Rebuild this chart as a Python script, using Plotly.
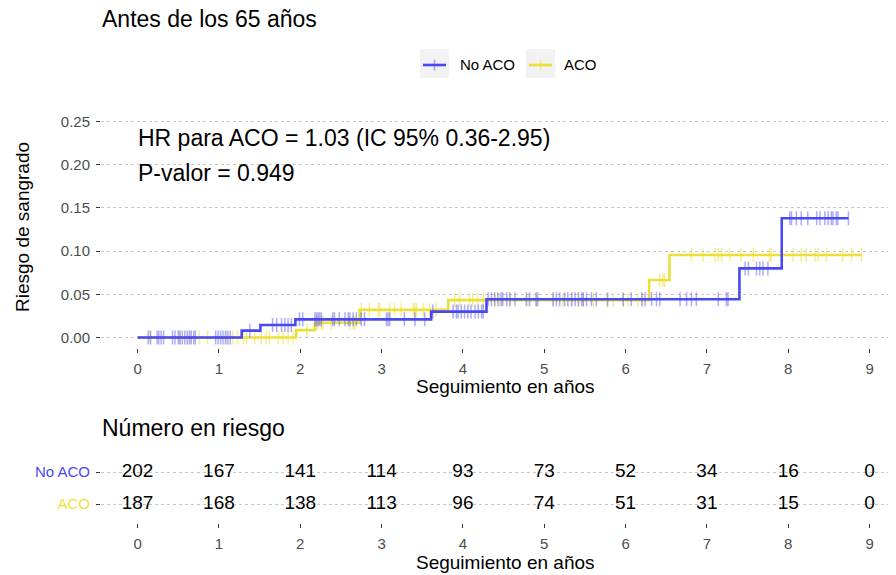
import plotly.graph_objects as go

# ---------------- data ----------------
no_aco_times = [0, 1.28, 1.51, 1.94, 3.61, 4.29, 7.40, 7.92, 8.74]
no_aco_risk = [0, 0.0079, 0.0145, 0.021, 0.030, 0.0443, 0.080, 0.138, 0.138]

aco_times = [0, 1.95, 2.18, 2.73, 3.82, 6.29, 6.54, 8.90]
aco_risk = [0, 0.0085, 0.017, 0.032, 0.0433, 0.0666, 0.0955, 0.0955]

no_aco_censor = [0.13, 0.16, 0.24, 0.26, 0.29, 0.32, 0.43, 0.46, 0.50, 0.52, 0.55, 0.58, 0.61, 0.64,
                 0.66, 0.69, 0.71, 0.96, 0.99, 1.02, 1.05, 1.08, 1.11, 1.14, 1.38, 1.66, 1.71, 1.77,
                 1.81, 1.85, 1.89, 1.99, 2.03, 2.18, 2.20, 2.22, 2.24, 2.26, 2.40, 2.42, 2.48, 2.55,
                 2.59, 2.61, 2.65, 2.69, 2.75, 2.79, 3.06, 3.08, 3.10, 3.28, 3.41, 3.53, 3.63, 3.88,
                 3.92, 3.94, 3.98, 4.02, 4.06, 4.10, 4.15, 4.19, 4.23, 4.25, 4.31, 4.35, 4.39, 4.43,
                 4.47, 4.49, 4.54, 4.58, 4.64, 4.78, 4.82, 4.90, 4.92, 5.11, 5.15, 5.19, 5.25, 5.29,
                 5.34, 5.38, 5.42, 5.46, 5.48, 5.52, 5.58, 5.64, 5.78, 5.97, 6.07, 6.20, 6.24, 6.32,
                 6.38, 6.42, 6.67, 6.75, 6.81, 6.87, 7.14, 7.24, 7.26, 7.47, 7.51, 7.61, 7.65, 7.69,
                 7.75, 8.02, 8.04, 8.10, 8.16, 8.24, 8.35, 8.39, 8.45, 8.49, 8.53, 8.55, 8.59, 8.61, 8.74]

aco_censor = [0.15, 0.52, 0.62, 0.76, 0.86, 1.09, 1.17, 1.23, 1.30, 1.34, 1.44, 1.52, 1.58, 1.62,
              1.73, 1.79, 1.85, 1.91, 2.08, 2.20, 2.22, 2.26, 2.28, 2.38, 2.61, 2.65, 2.67, 2.75,
              2.85, 2.96, 2.98, 3.10, 3.16, 3.24, 3.39, 3.41, 3.43, 3.51, 3.59, 3.67, 3.90, 3.96,
              4.08, 4.12, 4.18, 4.25, 4.39, 4.45, 4.57, 4.80, 4.90, 5.11, 5.23, 5.33, 5.42, 5.48,
              5.60, 5.77, 5.85, 5.97, 6.03, 6.15, 6.21, 6.42, 6.46, 6.48, 6.81, 6.95, 7.10, 7.14,
              7.18, 7.28, 7.42, 7.57, 7.77, 7.79, 7.92, 8.06, 8.16, 8.22, 8.33, 8.37, 8.47, 8.67,
              8.78, 8.90]

table_times = [0, 1, 2, 3, 4, 5, 6, 7, 8, 9]
no_aco_at_risk = [202, 167, 141, 114, 93, 73, 52, 34, 16, 0]
aco_at_risk = [187, 168, 138, 113, 96, 74, 51, 31, 15, 0]

group_names = ["No ACO", "ACO"]
y_ticks = [0, 0.05, 0.10, 0.15, 0.20, 0.25]
y_ticklabels = ["0.00", "0.05", "0.10", "0.15", "0.20", "0.25"]

# ---------------- styling ----------------
BLUE = "#4848F4"
BLUE_C = "rgba(72,72,244,0.45)"
YELLOW = "#EDDF3A"
YELLOW_C = "rgba(237,223,58,0.55)"
FONT = "Liberation Sans, Arial, sans-serif"
OFF = 8                      # page body margin of the browser
W, H = 896 - OFF, 575 - OFF
L, R, T, B = 101 - OFF, 0, 0, 0
PW = W - L - R
PXPERYEAR = 81.33


def step_val(times, vals, t):
    v = vals[0]
    for ti, vi in zip(times, vals):
        if ti <= t:
            v = vi
    return v


def px(xp):
    return (xp - OFF - L) / PW


def py(yp):
    return 1 - (yp - OFF) / H


xr = [-0.45, -0.45 + PW / PXPERYEAR]

fig = go.Figure()

# curves: yellow first, blue on top
fig.add_trace(go.Scatter(x=aco_times, y=aco_risk, mode="lines", line=dict(color=YELLOW, width=2.6, shape="hv"),
                         name=group_names[1], showlegend=False, xaxis="x", yaxis="y"))
fig.add_trace(go.Scatter(x=aco_censor, y=[step_val(aco_times, aco_risk, t) for t in aco_censor],
                         mode="markers", marker=dict(symbol="line-ns", size=10, line=dict(color=YELLOW_C, width=1.5)),
                         showlegend=False, hoverinfo="skip", xaxis="x", yaxis="y"))
fig.add_trace(go.Scatter(x=no_aco_times, y=no_aco_risk, mode="lines", line=dict(color=BLUE, width=2.6, shape="hv"),
                         name=group_names[0], showlegend=False, xaxis="x", yaxis="y"))
fig.add_trace(go.Scatter(x=no_aco_censor, y=[step_val(no_aco_times, no_aco_risk, t) for t in no_aco_censor],
                         mode="markers", marker=dict(symbol="line-ns", size=10, line=dict(color=BLUE_C, width=1.5)),
                         showlegend=False, hoverinfo="skip", xaxis="x", yaxis="y"))

# risk table
fig.add_trace(go.Scatter(x=table_times, y=[2] * len(table_times), mode="text",
                         text=[str(v) for v in no_aco_at_risk],
                         textfont=dict(size=19, color="black", family=FONT),
                         showlegend=False, hoverinfo="skip", xaxis="x2", yaxis="y2"))
fig.add_trace(go.Scatter(x=table_times, y=[1] * len(table_times), mode="text",
                         text=[str(v) for v in aco_at_risk],
                         textfont=dict(size=19, color="black", family=FONT),
                         showlegend=False, hoverinfo="skip", xaxis="x2", yaxis="y2"))

axis_common = dict(showline=False, zeroline=False, ticks="outside", ticklen=4, tickwidth=1,
                   tickcolor="#333333", tickfont=dict(size=15, color="#4D4D4D", family=FONT))

fig.update_layout(
    width=W, height=H, margin=dict(l=L, r=R, t=T, b=B),
    paper_bgcolor="white", plot_bgcolor="white",
    font=dict(family=FONT),
    xaxis=dict(domain=[0, 1], range=xr, tickvals=table_times, showgrid=False, anchor="y",
               ticklabelstandoff=3, **axis_common),
    yaxis=dict(domain=[py(348.3), py(110.7)], range=[-0.0125, 0.2625], tickvals=y_ticks,
               ticktext=y_ticklabels, showgrid=True, gridcolor="#C8C8C8", griddash="dot", gridwidth=1,
               anchor="x", ticklabelstandoff=3, **axis_common),
    xaxis2=dict(domain=[0, 1], range=xr, tickvals=table_times, showgrid=False, anchor="y2",
                ticklabelstandoff=3, **axis_common),
    yaxis2=dict(domain=[py(523.2), py(452.8)], range=[0.4, 2.6], tickvals=[2, 1],
                ticktext=[f"<span style='color:{BLUE}'>{group_names[0]}</span>",
                          f"<span style='color:{YELLOW}'>{group_names[1]}</span>"],
                showgrid=True, gridcolor="#C8C8C8", griddash="dot", gridwidth=1,
                anchor="x2", ticklabelstandoff=3, **axis_common),
)

ann = []
def add_text(text, xp, yp, size, color="black", xanchor="left", angle=0):
    ann.append(dict(text=text, x=px(xp), y=py(yp), xref="paper", yref="paper", xanchor=xanchor,
                    yanchor="middle", showarrow=False, textangle=angle,
                    font=dict(size=size, color=color, family=FONT)))

add_text("Antes de los 65 años", 100, 19, 23)
add_text("HR para ACO = 1.03 (IC 95% 0.36-2.95)", 136, 138, 23)
add_text("P-valor = 0.949", 136, 173, 23)
add_text("Riesgo de sangrado", 22, 227, 19, angle=-90, xanchor="center")
add_text("Seguimiento en años", 505, 386, 19, xanchor="center")
add_text("Número en riesgo", 100, 428, 23)
add_text("Seguimiento en años", 505, 562, 19, xanchor="center")
# legend labels
add_text("No ACO", 458, 65, 15)
add_text("ACO", 562, 65, 15)

shapes = []
for x0, col, colc in [(420, BLUE, BLUE_C), (526, YELLOW, YELLOW_C)]:
    shapes.append(dict(type="rect", xref="paper", yref="paper", x0=px(x0), x1=px(x0 + 29),
                       y0=py(78), y1=py(49), fillcolor="#F2F2F2", line=dict(width=0), layer="below"))
    shapes.append(dict(type="line", xref="paper", yref="paper", x0=px(x0 + 3), x1=px(x0 + 26),
                       y0=py(65), y1=py(65), line=dict(color=col, width=2.6)))
    shapes.append(dict(type="line", xref="paper", yref="paper", x0=px(x0 + 14.5), x1=px(x0 + 14.5),
                       y0=py(59.5), y1=py(70.5), line=dict(color=colc, width=1.6)))

fig.update_layout(annotations=ann, shapes=shapes)

fig.write_html("out.html")
